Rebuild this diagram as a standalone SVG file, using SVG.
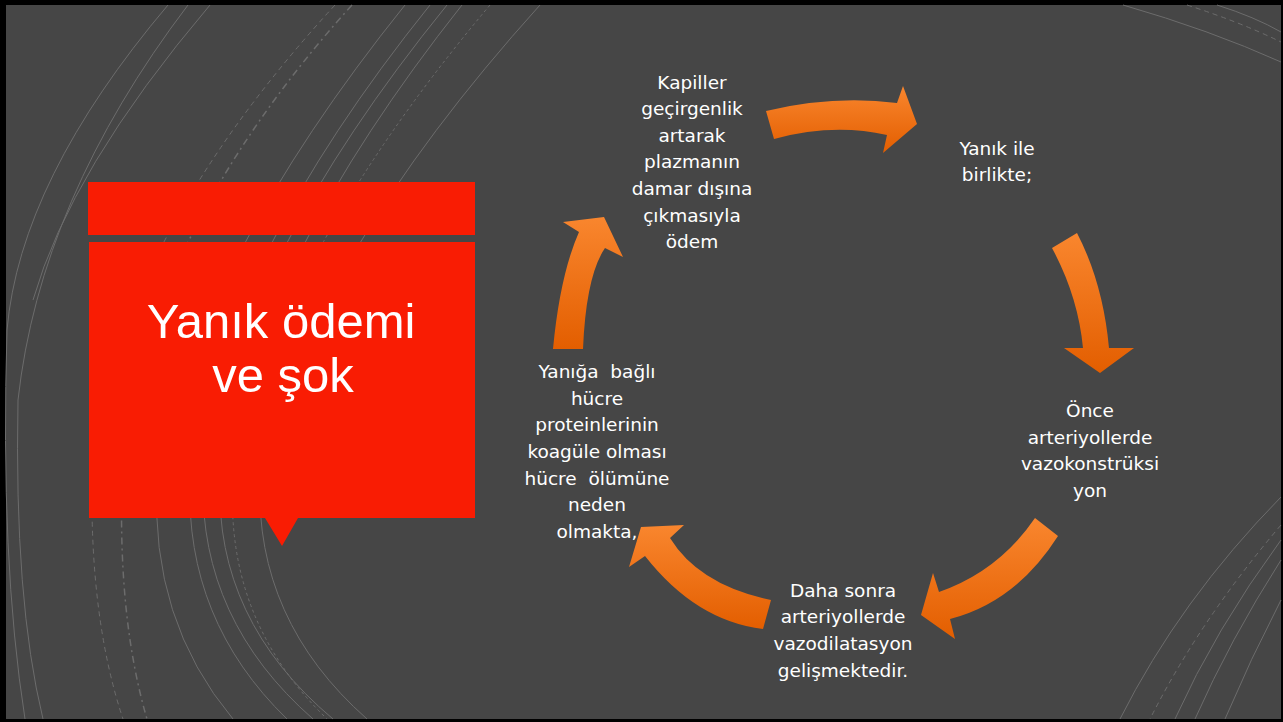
<svg xmlns="http://www.w3.org/2000/svg" width="1283" height="722" viewBox="0 0 1283 722">
<defs>
<linearGradient id="og" x1="0" y1="0" x2="0" y2="1">
<stop offset="0" stop-color="#F9862E"/>
<stop offset="1" stop-color="#E35E00"/>
</linearGradient>
<style>
.bg{fill:none;stroke:#6c6c6c;stroke-width:1}
.dash{stroke-dasharray:5 4}
.dashdot{stroke-dasharray:7 4 2 4;stroke-width:1.5}
.dot{stroke-dasharray:3 3}
.arrow{fill:url(#og)}
.t{font-family:"DejaVu Sans","Liberation Sans",sans-serif;font-size:18.5px;fill:#ffffff;text-anchor:middle}
.title{font-family:"Liberation Sans",Arial,sans-serif;font-size:49px;fill:#ffffff;text-anchor:middle}
</style>
</defs>
<rect x="0" y="0" width="1283" height="722" fill="#000"/>
<rect x="6" y="5" width="1275" height="714" fill="#464646"/>
<g id="background-arcs">
<path class="bg" d="M168,5 Q20,180 7,330 Q0,560 25,719"/>
<path class="bg" d="M188,5 Q40,200 18,400 Q14,600 43,719"/>
<path class="bg" d="M210,5 Q70,170 33,300"/>
<path class="bg dash" d="M335,5 Q110,250 92,480 Q90,620 123,719"/>
<path class="bg dashdot" d="M352,5 Q140,240 122,480 Q118,620 147,719"/>
<path class="bg" d="M405,5 Q200,260 157,480 Q150,620 233,719"/>
<path class="bg" d="M430,5 Q225,260 190,480 Q185,620 287,719"/>
<path class="bg" d="M447,5 Q240,260 203,480 Q200,620 313,719"/>
<path class="bg" d="M462,5 Q260,260 220,480 Q215,620 333,719"/>
<path class="bg dot" d="M490,5 Q275,260 233,480 Q225,620 327,719"/>
<path class="bg" d="M540,5 Q310,260 260,480 Q255,620 367,719"/>
<path class="bg" d="M1123,5 Q1210,30 1281,62"/>
<path class="bg dash" d="M1187,5 Q1240,22 1281,42"/>
<path class="bg" d="M1217,5 Q1255,17 1281,32"/>
<path class="bg" d="M1281,497 Q1180,600 1120,719"/>
<path class="bg dash" d="M1281,525 Q1200,620 1150,719"/>
<path class="bg" d="M1281,540 Q1215,630 1175,719"/>
<path class="bg" d="M1281,560 Q1230,640 1195,719"/>
<path class="bg" d="M1281,600 Q1250,660 1225,719"/>
</g>
<g id="title">
<rect x="88" y="182" width="387" height="53" fill="#F91C03"/>
<path d="M89,242 H475 V518 H298 L282,546 L265,518 H89 Z" fill="#F91C03"/>
<text class="title" x="281" y="338">Yanık ödemi</text>
<text class="title" x="283" y="392">ve şok</text>
</g>
<g id="connectors">
<path class="arrow" d="M766,111 Q833,95 897,103 L903,86 L917,124 L883,153 L887,135 Q833,123 774,139 Z"/>
<path class="arrow" d="M1052,248 L1077,233 Q1103,283 1109,348 L1134,348 L1100,373 L1064,348 L1083,348 Q1078,296 1052,248 Z"/>
<path class="arrow" d="M1035,518 L1058,536 Q1016,602 950,619 L955,639 L921,615 L933,573 L939,592 Q999,571 1035,518 Z"/>
<path class="arrow" d="M771,600 Q699,585 670,538 L684,525 L641,527 L629,567 L645,556 Q696,621 763,629 Z"/>
<path class="arrow" d="M553,349 Q560,275 579,232 L563,222 L604,217 L623,257 L605,248 Q586,276 583,349 Z"/>
</g>
<g id="node-kapiller">
<text class="t" x="692" y="89">Kapiller</text>
<text class="t" x="692" y="115">geçirgenlik</text>
<text class="t" x="692" y="142">artarak</text>
<text class="t" x="692" y="168">plazmanın</text>
<text class="t" x="692" y="195">damar dışına</text>
<text class="t" x="692" y="222">çıkmasıyla</text>
<text class="t" x="692" y="248">ödem</text>
</g>
<g id="node-yanik">
<text class="t" x="997" y="155">Yanık ile</text>
<text class="t" x="997" y="181">birlikte;</text>
</g>
<g id="node-once">
<text class="t" x="1090" y="417">Önce</text>
<text class="t" x="1090" y="444">arteriyollerde</text>
<text class="t" x="1090" y="470">vazokonstrüksi</text>
<text class="t" x="1090" y="497">yon</text>
</g>
<g id="node-daha">
<text class="t" x="843" y="597">Daha sonra</text>
<text class="t" x="843" y="623">arteriyollerde</text>
<text class="t" x="843" y="650">vazodilatasyon</text>
<text class="t" x="843" y="677">gelişmektedir.</text>
</g>
<g id="node-hucre">
<text class="t" x="597" y="378" xml:space="preserve">Yanığa  bağlı</text>
<text class="t" x="597" y="405">hücre</text>
<text class="t" x="597" y="431">proteinlerinin</text>
<text class="t" x="597" y="458">koagüle olması</text>
<text class="t" x="597" y="485" xml:space="preserve">hücre  ölümüne</text>
<text class="t" x="597" y="511">neden</text>
<text class="t" x="597" y="538">olmakta,</text>
</g>
</svg>
